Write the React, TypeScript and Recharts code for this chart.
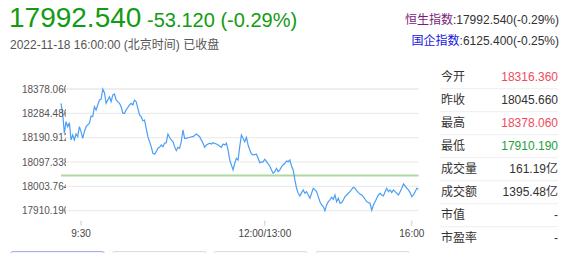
import { LineChart, Line, XAxis, YAxis, CartesianGrid, ReferenceLine } from "recharts";

// minute slots across the trading day and the index level at each one
const times = [
  0, 1, 2, 3, 4, 5, 6, 7, 8, 9, 10, 11, 12, 13, 14, 15, 17, 18, 19, 20, 21, 23, 24, 25, 26, 27, 28, 29, 30, 31, 32,
  33, 34, 35, 36, 37, 38, 39, 41, 42, 43, 44, 45, 46, 47, 48, 49, 50, 51, 52, 53, 54, 55, 56, 57, 58, 59, 60, 61, 62,
  63, 64, 65, 66, 67, 68, 69, 70, 71, 72, 73, 74, 75, 77, 79, 81, 83, 85, 86, 87, 89, 90, 91, 93, 94, 96, 97, 98, 99,
  100, 101, 103, 104, 105, 106, 107, 108, 109, 110, 111, 112, 113, 114, 115, 117, 118, 119, 121, 122, 123, 124, 125,
  126, 127, 128, 129, 130, 131, 132, 134, 135, 136, 137, 138, 139, 140, 141, 142, 143, 144, 145, 146, 147, 148, 149,
  150, 151, 152, 153, 154, 155, 156, 157, 158, 159, 160, 161, 162, 163, 164, 165, 166, 167, 168, 169, 170, 171, 172,
  173, 174, 175, 176, 177, 178, 179, 180, 181, 182, 183, 184, 185, 186, 187, 188, 189, 190, 191, 192, 193, 194, 195,
  196, 197, 198, 199, 200, 201, 202, 203, 204, 205, 206, 207, 208, 209, 210, 211, 212, 213, 214,
];
const prices = [
  18323.1, 18284.7, 18207.8, 18252.4, 18233.2, 18248.6, 18182.1, 18201.3, 18182.1, 18205.2, 18194.8, 18233.2, 18214.0,
  18188.6, 18214.0, 18233.2, 18246.3, 18274.3, 18271.6, 18310.1, 18297.4, 18335.8, 18338.5, 18378.1, 18363.9, 18323.1,
  18335.8, 18348.5, 18329.3, 18355.0, 18358.8, 18335.8, 18329.3, 18323.1, 18310.1, 18284.7, 18284.7, 18297.4, 18316.6,
  18323.1, 18316.6, 18335.8, 18329.3, 18303.9, 18278.2, 18271.6, 18256.3, 18259.0, 18227.1, 18194.8, 18175.6, 18156.4,
  18131.0, 18127.1, 18137.1, 18150.2, 18154.0, 18162.9, 18156.4, 18169.4, 18171.7, 18205.2, 18192.5, 18182.1, 18175.6,
  18156.4, 18141.0, 18154.0, 18150.2, 18175.6, 18220.5, 18188.6, 18188.6, 18192.5, 18194.8, 18205.2, 18194.8, 18169.4,
  18154.0, 18162.9, 18169.4, 18166.7, 18171.7, 18166.7, 18162.9, 18154.0, 18166.7, 18162.9, 18169.4, 18143.7, 18105.2,
  18066.8, 18092.6, 18111.8, 18105.2, 18156.4, 18201.3, 18188.6, 18175.6, 18192.5, 18162.9, 18143.7, 18128.3, 18124.5,
  18127.1, 18111.8, 18094.9, 18098.7, 18107.9, 18098.7, 18089.9, 18082.2, 18066.8, 18054.1, 18060.3, 18073.4, 18060.3,
  18066.8, 18079.5, 18092.6, 18101.4, 18098.7, 18105.2, 18082.2, 18066.8, 18028.4, 17996.5, 17977.3, 17966.9, 17979.6,
  17990.0, 17977.3, 17983.4, 17970.7, 17958.1, 17977.3, 17996.5, 17990.0, 17983.4, 17964.2, 17945.0, 17932.3, 17925.8,
  17910.2, 17932.3, 17945.0, 17951.5, 17961.9, 17954.2, 17970.7, 17945.0, 17958.1, 17938.8, 17941.2, 17951.5, 17964.2,
  17970.7, 17977.3, 17983.4, 17992.6, 18000.3, 17996.5, 17987.3, 17979.6, 17974.6, 17970.7, 17964.2, 17954.2, 17945.0,
  17941.2, 17938.8, 17912.0, 17932.3, 17945.0, 17958.1, 17970.7, 17977.3, 17970.7, 17966.9, 17983.4, 17996.5, 17983.4,
  17990.0, 17979.6, 17990.0, 17983.4, 17977.3, 17970.7, 17983.4, 17996.5, 18013.0, 18005.3, 17996.5, 17990.0, 17979.6,
  17964.2, 17970.7, 17983.4, 17996.5, 17992.5,
];

const prevClose = 18045.66;
const yTicks = [17910.19, 18003.764, 18097.338, 18190.912, 18284.486, 18378.06];
const xTicks = [12, 122, 210];
const xTickLabels = ["9:30", "12:00/13:00", "16:00"];

const statLabels = ["今开", "昨收", "最高", "最低", "成交量", "成交额", "市值", "市盈率"];
const statValues = ["18316.360", "18045.660", "18378.060", "17910.190", "161.19亿", "1395.48亿", "-", "-"];
const statColors = ["#f04b5b", "#333", "#f04b5b", "#1f9e3c", "#333", "#333", "#333", "#333"];

const tabs = [0, 1, 2, 3];

const FONT = '"Liberation Sans", Arial, "Noto Sans CJK SC", sans-serif';
const GREEN = "#139b13";

const data = times.map((t, i) => ({ t, price: prices[i] }));

function YTick({ y, payload, index }: any) {
  const id = `yclip-${index}`;
  return (
    <g>
      <defs>
        <clipPath id={id}>
          <rect x={0} y={y - 10} width={66} height={20} />
        </clipPath>
      </defs>
      <text x={22} y={y + 3.5} fontSize={10} fill="#555" fontFamily={FONT} clipPath={`url(#${id})`}>
        {Number(payload.value).toFixed(3)}
      </text>
    </g>
  );
}

function XTick({ x, y, payload }: any) {
  const label = xTickLabels[xTicks.indexOf(payload.value)];
  return (
    <g>
      <line x1={x} x2={x} y1={y + 10} y2={y + 15} stroke="#ccc" />
      <text x={x} y={y + 26} fontSize={10} fill="#444" textAnchor="middle" fontFamily={FONT}>
        {label}
      </text>
    </g>
  );
}

export default function App() {
  return (
    <div style={{ position: "fixed", left: 0, top: 0, width: 567, height: 253, background: "#fff", overflow: "hidden", fontFamily: FONT }}>
      <div style={{ position: "absolute", left: 0, top: 0 }}>
        <LineChart width={430} height={253} data={data} margin={{ top: 89, right: 11.5, left: 0, bottom: 12.3 }}>
          <CartesianGrid vertical={false} stroke="#e8e8e8" />
          <XAxis
            dataKey="t"
            type="number"
            domain={[0, 214]}
            ticks={xTicks}
            height={30}
            axisLine={false}
            tickLine={false}
            tickSize={0}
            tickMargin={0}
            tick={<XTick />}
            interval={0}
          />
          <YAxis
            domain={[yTicks[0], yTicks[yTicks.length - 1]]}
            ticks={yTicks}
            width={61}
            axisLine={false}
            tickLine={false}
            tick={<YTick />}
            interval={0}
          />
          <ReferenceLine y={prevClose} stroke="#acd9a2" strokeWidth={2} />
          <Line type="linear" dataKey="price" stroke="#4b9ff5" strokeWidth={1.2} dot={false} isAnimationActive={false} />
        </LineChart>
      </div>

      <svg width={567} height={253} style={{ position: "absolute", left: 0, top: 0, pointerEvents: "none" }}>
        <text x={9} y={27.3} fontSize={28} fill={GREEN} fontFamily={FONT}>17992.540</text>
        <text x={147} y={26.7} fontSize={20} fill={GREEN} fontFamily={FONT}>-53.120 (-0.29%)</text>
        <text x={10} y={49.3} fontSize={12} fill="#555" fontFamily={FONT}>2022-11-18 16:00:00 (北京时间) 已收盘</text>

        <text x={559} y={24} fontSize={12} textAnchor="end" fontFamily={FONT}>
          <tspan fill="#7a1a7a">恒生指数</tspan>
          <tspan fill="#333">:17992.540(-0.29%)</tspan>
        </text>
        <text x={559} y={44.5} fontSize={12} textAnchor="end" fontFamily={FONT}>
          <tspan fill="#1515e0">国企指数</tspan>
          <tspan fill="#333">:6125.400(-0.25%)</tspan>
        </text>

        {statLabels.map((label, i) => {
          const cy = 76.7 + i * 23;
          return (
            <g key={label}>
              <text x={441} y={cy + 4.5} fontSize={12} fill="#333" fontFamily={FONT}>{label}</text>
              <text x={558} y={cy + 4.3} fontSize={12} fill={statColors[i]} textAnchor="end" fontFamily={FONT}>
                {statValues[i]}
              </text>
              {i < statLabels.length - 1 && <line x1={440} x2={558} y1={cy + 12} y2={cy + 12} stroke="#eee" />}
            </g>
          );
        })}
      </svg>

      {tabs.map((i) => (
        <div
          key={i}
          style={{
            position: "absolute",
            left: 10 + i * 101.7,
            top: 251,
            width: 95,
            height: 20,
            boxSizing: "border-box",
            borderRadius: 3,
            border: i === 0 ? "1px solid #aaaee6" : "1px solid #ddd",
            background: i === 0 ? "#f3f4fc" : "#fafafa",
          }}
        />
      ))}
    </div>
  );
}
